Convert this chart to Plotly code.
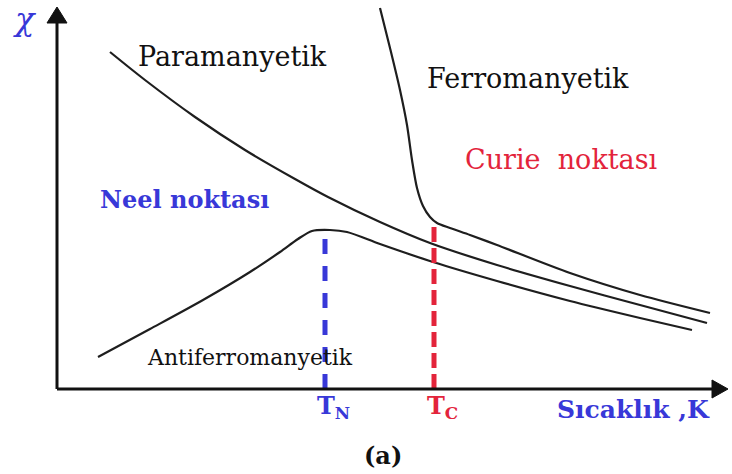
import plotly.graph_objects as go

W, H = 732, 474

# Temperature (arbitrary units) and susceptibility (arbitrary units) for each magnetic phase
para_T = [53, 88, 138, 188, 238, 271, 323, 373, 440, 513, 583, 650]
para_chi = [337, 309, 272, 239, 210, 192, 167, 146, 124, 103, 84, 66]

ferro_T = [323, 333, 343, 350, 355, 360, 366, 373, 380, 393, 413, 440, 513, 583, 653]
ferro_chi = [381, 341, 299, 264, 229, 201, 183, 172, 166, 161, 154, 144, 116, 94, 76]

antiferro_T = [41, 93, 146, 193, 223, 241, 255, 273, 290, 323, 376, 440, 513, 583, 635]
antiferro_chi = [32, 60, 89, 117, 137, 150, 158, 159, 157, 145, 127, 108, 88, 71, 59]

# Transition temperatures and the susceptibility reached there
T_neel, chi_neel = 268, 160
T_curie, chi_curie = 377, 168

BLUE = "#3838d8"
RED = "#e3243b"
INK = "#1e1e1e"
SERIF = "DejaVu Serif"

fig = go.Figure()

for T, chi in [(para_T, para_chi), (ferro_T, ferro_chi), (antiferro_T, antiferro_chi)]:
    fig.add_trace(go.Scatter(x=T, y=chi, mode="lines",
                             line=dict(color=INK, width=2.2, shape="spline", smoothing=0.8),
                             hoverinfo="skip", showlegend=False))

fig.add_trace(go.Scatter(x=[T_neel, T_neel], y=[0, chi_neel], mode="lines",
                         line=dict(color=BLUE, width=5, dash="15px,12px"),
                         hoverinfo="skip", showlegend=False))
fig.add_trace(go.Scatter(x=[T_curie, T_curie], y=[0, chi_curie], mode="lines",
                         line=dict(color=RED, width=5, dash="15px,6px"),
                         hoverinfo="skip", showlegend=False))

# Axes: shafts and filled arrowheads (axis units are one pixel each)
AX = "#111111"
fig.add_shape(type="line", x0=0, y0=0, x1=0, y1=368, line=dict(color=AX, width=3))
fig.add_shape(type="line", x0=0, y0=0, x1=657, y1=0, line=dict(color=AX, width=3))
fig.add_shape(type="path", path="M -10,366 L 0,382 L 10,366 Z",
              fillcolor=AX, line=dict(color=AX, width=1))
fig.add_shape(type="path", path="M 655,-9 L 671,0 L 655,9 Z",
              fillcolor=AX, line=dict(color=AX, width=1))


def label(text, px, py, size, color="#111", family=SERIF):
    fig.add_annotation(x=px / W, y=1 - py / H, xref="paper", yref="paper",
                       text=text, showarrow=False, xanchor="center", yanchor="middle",
                       font=dict(family=family, size=size, color=color))


label("<i>χ</i>", 24, 19, 32, BLUE)
label("Paramanyetik", 232, 56, 27)
label("Ferromanyetik", 528, 78, 27)
label("Antiferromanyetik", 250, 357, 22)
label("Curie\u00a0\u00a0noktası", 561, 159, 27, RED)
label("<b>Neel noktası</b>", 184, 200, 24, BLUE)
label("<b>T<sub>N</sub></b>", 333, 407, 24, BLUE)
label("<b>T<sub>C</sub></b>", 442, 407, 24, RED)
label("<b>Sıcaklık ,K</b>", 633, 409, 25, BLUE)
label("<b>(a)</b>", 383, 455, 24)

fig.update_xaxes(visible=False, range=[-57, 675], fixedrange=True)
fig.update_yaxes(visible=False, range=[-85, 389], fixedrange=True)
fig.update_layout(width=W, height=H, margin=dict(l=0, r=0, t=0, b=0),
                  plot_bgcolor="white", paper_bgcolor="white")

fig.write_html("out.html", config={"displayModeBar": False})
